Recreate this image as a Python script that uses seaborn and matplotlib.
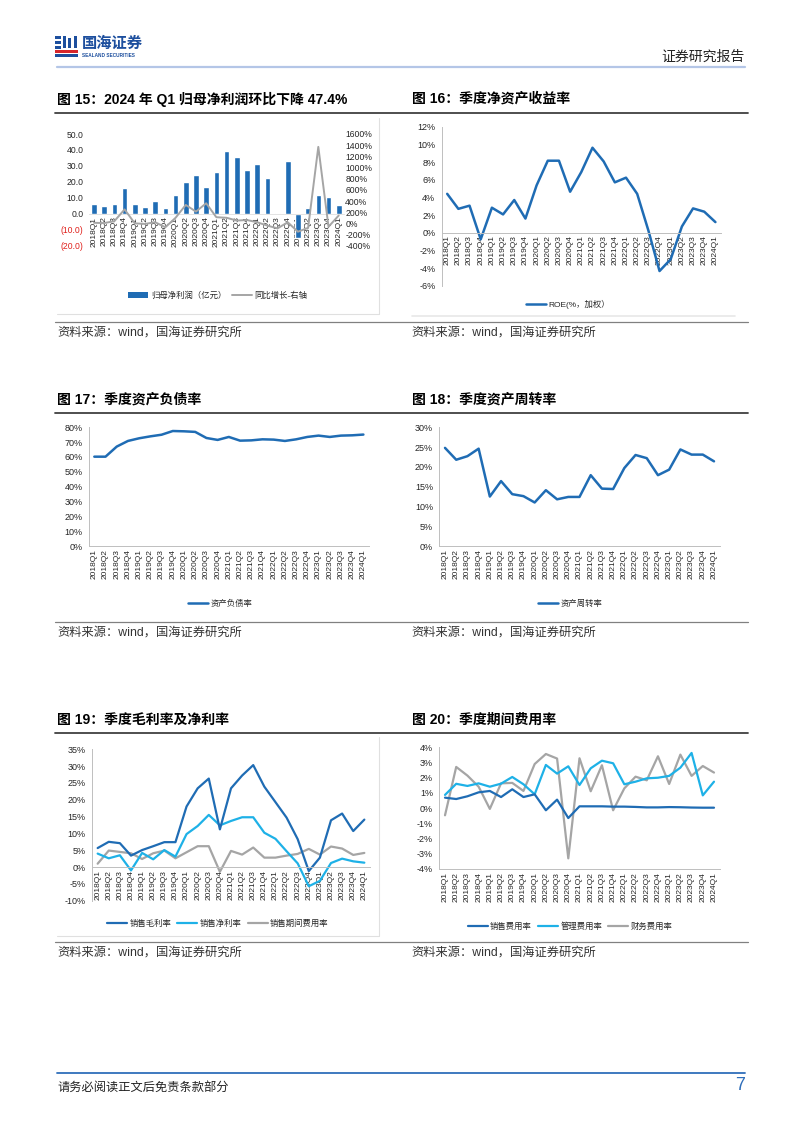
import numpy as np
import pandas as pd
import matplotlib
matplotlib.use("Agg")
import matplotlib.pyplot as plt
import seaborn as sns
from matplotlib.lines import Line2D
from matplotlib.patches import Patch, Rectangle

# ---------------- data ----------------
quarters = ["2018Q1", "2018Q2", "2018Q3", "2018Q4", "2019Q1", "2019Q2", "2019Q3", "2019Q4",
            "2020Q1", "2020Q2", "2020Q3", "2020Q4", "2021Q1", "2021Q2", "2021Q3", "2021Q4",
            "2022Q1", "2022Q2", "2022Q3", "2022Q4", "2023Q1", "2023Q2", "2023Q3", "2023Q4",
            "2024Q1"]

net_profit = [6.1, 4.6, 6.3, 15.9, 5.9, 4.0, 7.7, 3.6, 11.9, 19.7, 24.5, 16.5, 26.4, 39.1,
              35.6, 27.2, 31.4, 22.4, 0.8, 33.3, -15.0, 3.4, 11.9, 10.5, 5.2]
profit_yoy = [10, 5, 40, 250, 0, -10, 20, -70, 100, 330, 210, 360, 110, 100, 50, 60, 20,
              -40, -90, 20, -150, -80, 1370, -60, 140]

roe = [4.4, 2.7, 3.06, -0.75, 2.83, 2.07, 3.7, 1.6, 5.36, 8.15, 8.15, 4.64, 6.87, 9.62,
       8.07, 5.7, 6.23, 4.4, 0.26, -4.34, -3.0, 0.7, 2.75, 2.38, 1.2]

debt_ratio = [60.2, 60.2, 67.0, 70.8, 72.6, 73.9, 75.0, 77.5, 77.3, 76.9, 72.8, 71.5, 73.5,
              71.0, 71.2, 71.9, 71.7, 70.8, 71.9, 73.5, 74.4, 73.5, 74.4, 74.6, 75.1]

turnover = [24.8, 21.8, 22.7, 24.6, 12.5, 16.4, 13.1, 12.6, 11.0, 14.1, 11.8, 12.4, 12.4,
            17.9, 14.5, 14.4, 19.7, 23.0, 22.2, 17.9, 19.3, 24.4, 23.1, 23.1, 21.4]

gross_margin = [5.65, 7.5, 7.1, 3.4, 5.05, 6.2, 7.4, 7.4, 18.0, 23.4, 26.3, 11.2, 23.4, 27.2,
                30.3, 23.9, 19.3, 14.7, 8.3, -1.2, 2.8, 13.9, 15.9, 10.7, 14.1]
net_margin = [4.0, 2.6, 3.5, -1.0, 4.2, 2.3, 5.05, 3.1, 9.8, 12.2, 15.5, 12.4, 13.7, 14.8,
              14.8, 10.2, 8.4, 4.7, 1.1, -5.7, -4.1, 1.2, 2.5, 1.7, 1.3]
period_exp = [1.0, 4.9, 4.5, 4.1, 2.4, 4.1, 4.9, 2.6, 4.4, 6.2, 6.2, -1.4, 4.8, 3.7, 5.8,
              2.8, 2.8, 3.4, 3.9, 5.4, 3.7, 6.1, 5.5, 3.6, 4.2]

sales_exp = [0.69, 0.60, 0.78, 1.04, 1.13, 0.73, 1.24, 0.73, 0.91, -0.14, 0.56, -0.65, 0.12,
             0.12, 0.12, 0.10, 0.10, 0.08, 0.05, 0.05, 0.07, 0.06, 0.04, 0.03, 0.03]
admin_exp = [0.87, 1.60, 1.46, 1.63, 1.41, 1.61, 2.05, 1.57, 0.91, 2.84, 2.27, 2.75, 1.52,
             2.62, 3.12, 2.95, 1.57, 1.74, 1.96, 2.00, 2.12, 2.66, 3.63, 0.84, 1.74]
fin_exp = [-0.47, 2.71, 2.14, 1.41, -0.05, 1.63, 1.66, 1.13, 2.90, 3.56, 3.26, -3.30, 3.28,
           1.11, 2.82, -0.14, 1.30, 2.07, 1.83, 3.41, 1.59, 3.52, 2.12, 2.77, 2.34]

yt15_left = [-20, -10, 0, 10, 20, 30, 40, 50]
yt15_right = [-400, -200, 0, 200, 400, 600, 800, 1000, 1200, 1400, 1600]
yt16 = [-6, -4, -2, 0, 2, 4, 6, 8, 10, 12]
yt17 = [0, 10, 20, 30, 40, 50, 60, 70, 80]
yt18 = [0, 5, 10, 15, 20, 25, 30]
yt19 = [-10, -5, 0, 5, 10, 15, 20, 25, 30, 35]
yt20 = [-4, -3, -2, -1, 0, 1, 2, 3, 4]

# ---------------- style ----------------
sns.set_theme(style="white")
plt.rcParams["font.family"] = ["Liberation Sans", "Noto Sans CJK SC", "DejaVu Sans"]
plt.rcParams["axes.unicode_minus"] = False

BLUE = "#1F6CB4"
LBLUE = "#1EB1E7"
GRAY = "#A5A5A5"
AXC = "#BFBFBF"
TXT = "#262626"
YFS = 6.5
XFS = 6

W, H = 802, 1133
fig = plt.figure(figsize=(W / 100, H / 100), dpi=100)


def fx(x):
    return x / W


def fy(y):
    return 1 - y / H


def add_ax(x0, x1, ytop, ybot):
    return fig.add_axes([fx(x0), fy(ybot), (x1 - x0) / W, (ybot - ytop) / H])


def pct_labels(vals):
    return [f"{v}%" for v in vals]


def style_ax(ax, ylim, yticks, ylabels, zero=None, left_spine=True, yfs=YFS):
    # spine position first (it resets the ticks)
    if zero is not None:
        ax.spines["bottom"].set_position(("data", zero))
    ax.set_xlim(-0.5, len(quarters) - 0.5)
    ax.set_ylim(*ylim)
    ax.set_xticks(range(len(quarters)))
    ax.set_xticklabels(quarters)
    ax.set_yticks(yticks)
    ax.set_yticklabels(ylabels)
    ax.set_xlabel("")
    ax.set_ylabel("")
    ax.grid(False)
    for s in ["top", "right"]:
        ax.spines[s].set_visible(False)
    ax.spines["left"].set_visible(left_spine)
    ax.spines["left"].set_color(AXC)
    ax.spines["left"].set_linewidth(0.7)
    ax.spines["bottom"].set_color(AXC)
    ax.spines["bottom"].set_linewidth(0.7)
    ax.set_xticks(np.arange(-0.5, len(quarters), 1), minor=True)
    ax.tick_params(axis="x", which="major", length=0, pad=2, labelrotation=90,
                   labelsize=XFS, labelcolor=TXT)
    ax.tick_params(axis="x", which="minor", length=2.5, width=0.6, color=AXC)
    if left_spine:
        ax.tick_params(axis="y", length=2.5, width=0.6, color=AXC, pad=2,
                       labelsize=yfs, labelcolor=TXT)
    else:
        ax.tick_params(axis="y", length=0, pad=4, labelsize=yfs, labelcolor=TXT)
    ax.patch.set_alpha(0)


def legend(ax, handles, labels, cx, cy):
    ax.legend(handles, labels, loc="center", bbox_to_anchor=(fx(cx), fy(cy)),
              bbox_transform=fig.transFigure, ncol=len(handles), frameon=False,
              fontsize=6, handlelength=2.4, handletextpad=0.3, columnspacing=0.7,
              borderpad=0, borderaxespad=0, labelcolor=TXT)


def hline(x0, x1, y, color, lw):
    fig.add_artist(Line2D([fx(x0), fx(x1)], [fy(y), fy(y)], color=color, lw=lw,
                          transform=fig.transFigure))


def vline(x, y0, y1, color, lw):
    fig.add_artist(Line2D([fx(x), fx(x)], [fy(y0), fy(y1)], color=color, lw=lw,
                          transform=fig.transFigure))


# ---------------- Chart 15 ----------------
ax15 = add_ax(88.9, 343.8, 134, 245.7)
sns.barplot(x=quarters, y=net_profit, color=BLUE, saturation=1, width=0.55, ax=ax15)
left_lbls = [f"({-v:.1f})" if v < 0 else f"{v:.1f}" for v in yt15_left]
style_ax(ax15, (-20, 50), yt15_left, left_lbls, zero=0, left_spine=False, yfs=6.2)
for t, v in zip(ax15.get_yticklabels(), yt15_left):
    if v < 0:
        t.set_color("#E0201B")
ax15.spines["bottom"].set_color("#E3E3E3")
ax15.tick_params(axis="x", which="minor", length=0)
ax15b = ax15.twinx()
sns.lineplot(x=np.arange(len(quarters)), y=profit_yoy, color=GRAY, linewidth=1.4,
             sort=False, ax=ax15b, legend=False)
ax15b.set_ylim(-400, 1600)
ax15b.set_yticks(yt15_right)
ax15b.set_yticklabels(pct_labels(yt15_right))
ax15b.tick_params(axis="y", length=0, pad=1, labelsize=6.2, labelcolor=TXT)
ax15b.set_ylabel("")
for s in ax15b.spines.values():
    s.set_visible(False)
ax15b.grid(False)
legend(ax15b, [Patch(facecolor=BLUE, edgecolor="none"), Line2D([], [], color=GRAY, lw=1.4)],
       ["归母净利润（亿元）", "同比增长-右轴"], 218, 296)

# ---------------- Chart 16 ----------------
ax16 = add_ax(441.6, 721, 126.7, 285.7)
sns.lineplot(x=quarters, y=roe, color=BLUE, linewidth=1.8, sort=False, ax=ax16, legend=False)
style_ax(ax16, (-6, 12), yt16, pct_labels(yt16), zero=0)
legend(ax16, [Line2D([], [], color=BLUE, lw=1.8)], ["ROE(%，加权）"], 568, 304)

# ---------------- Chart 17 ----------------
ax17 = add_ax(88.7, 369, 427.3, 546)
sns.lineplot(x=quarters, y=debt_ratio, color=BLUE, linewidth=1.8, sort=False, ax=ax17,
             legend=False)
style_ax(ax17, (0, 80), yt17, pct_labels(yt17))
legend(ax17, [Line2D([], [], color=BLUE, lw=1.8)], ["资产负债率"], 220, 604)

# ---------------- Chart 18 ----------------
ax18 = add_ax(439.4, 719.6, 427.3, 546)
sns.lineplot(x=quarters, y=turnover, color=BLUE, linewidth=1.8, sort=False, ax=ax18,
             legend=False)
style_ax(ax18, (0, 30), yt18, pct_labels(yt18))
legend(ax18, [Line2D([], [], color=BLUE, lw=1.8)], ["资产周转率"], 570, 604)

# ---------------- Chart 19 ----------------
ax19 = add_ax(92.1, 369.9, 749.3, 900.7)
df19 = pd.DataFrame({"q": quarters, "销售毛利率": gross_margin, "销售净利率": net_margin,
                     "销售期间费用率": period_exp})
for col, c in [("销售期间费用率", GRAY), ("销售净利率", LBLUE), ("销售毛利率", BLUE)]:
    sns.lineplot(data=df19, x="q", y=col, color=c, linewidth=1.6, sort=False, ax=ax19,
                 legend=False)
style_ax(ax19, (-10, 35), yt19, pct_labels(yt19), zero=0)
legend(ax19, [Line2D([], [], color=c, lw=1.6) for c in (BLUE, LBLUE, GRAY)],
       ["销售毛利率", "销售净利率", "销售期间费用率"], 218, 924)

# ---------------- Chart 20 ----------------
ax20 = add_ax(439.4, 719.6, 747.3, 869)
df20 = pd.DataFrame({"q": quarters, "销售费用率": sales_exp, "管理费用率": admin_exp,
                     "财务费用率": fin_exp})
for col, c in [("财务费用率", GRAY), ("管理费用率", LBLUE), ("销售费用率", BLUE)]:
    sns.lineplot(data=df20, x="q", y=col, color=c, linewidth=1.6, sort=False, ax=ax20,
                 legend=False)
style_ax(ax20, (-4, 4), yt20, pct_labels(yt20))
legend(ax20, [Line2D([], [], color=c, lw=1.6) for c in (BLUE, LBLUE, GRAY)],
       ["销售费用率", "管理费用率", "财务费用率"], 570, 927)

# ---------------- page decorations ----------------
LOGO = "#1D4F9E"
for (x, y, w, h, c) in [(55, 36, 6, 2.5, LOGO), (55, 41, 6, 2.5, LOGO), (55, 46, 6, 2.5, LOGO),
                        (63, 36, 2.5, 12, LOGO), (68, 38, 2.5, 10, LOGO), (74, 36, 2.5, 12, LOGO),
                        (55, 50, 23, 3, "#D7262B"), (55, 54, 23, 3, LOGO)]:
    fig.add_artist(Rectangle((fx(x), fy(y + h)), w / W, h / H, transform=fig.transFigure,
                             facecolor=c, edgecolor="none"))
fig.text(fx(82), fy(44), "国海证券", fontsize=11, fontweight="bold", color=LOGO,
         ha="left", va="center")
fig.text(fx(82), fy(55.5), "SEALAND SECURITIES", fontsize=3.4, fontweight="bold", color=LOGO,
         ha="left", va="center")
fig.text(fx(745), fy(57), "证券研究报告", fontsize=10, color="#222222", ha="right", va="center")
hline(57, 745, 67, "#B4C6E7", 1.6)

titles = [("图 15：2024 年 Q1 归母净利润环比下降 47.4%", 57, 99),
          ("图 16：季度净资产收益率", 412, 99),
          ("图 17：季度资产负债率", 57, 400),
          ("图 18：季度资产周转率", 412, 400),
          ("图 19：季度毛利率及净利率", 57, 720),
          ("图 20：季度期间费用率", 412, 720)]
for t, x, y in titles:
    fig.text(fx(x), fy(y), t, fontsize=10, fontweight="bold", color="#000000",
             ha="left", va="center")
for y in (113, 413, 733):
    hline(55, 748, y, "#404040", 1.3)

vline(378.5, 118, 314, "#E0E0E0", 0.8)
hline(57, 378.5, 314, "#E0E0E0", 0.8)
hline(412, 735, 316, "#E8E8E8", 1.2)
vline(378.5, 737, 936, "#E0E0E0", 0.8)
hline(57, 378.5, 936, "#E0E0E0", 0.8)

for y in (322, 622, 942):
    hline(55, 748, y, "#808080", 0.9)
    for x in (57, 411):
        fig.text(fx(x), fy(y + 11), "资料来源：wind，国海证券研究所", fontsize=8.8,
                 color="#333333", ha="left", va="center")

hline(57, 745, 1073, "#2F6EBA", 1.3)
fig.text(fx(57), fy(1088), "请务必阅读正文后免责条款部分", fontsize=8.8, color="#222222",
         ha="left", va="center")
fig.text(fx(745), fy(1086), "7", fontsize=13, color="#2F6EBA", ha="right", va="center")

fig.savefig("out.png", dpi=100)
